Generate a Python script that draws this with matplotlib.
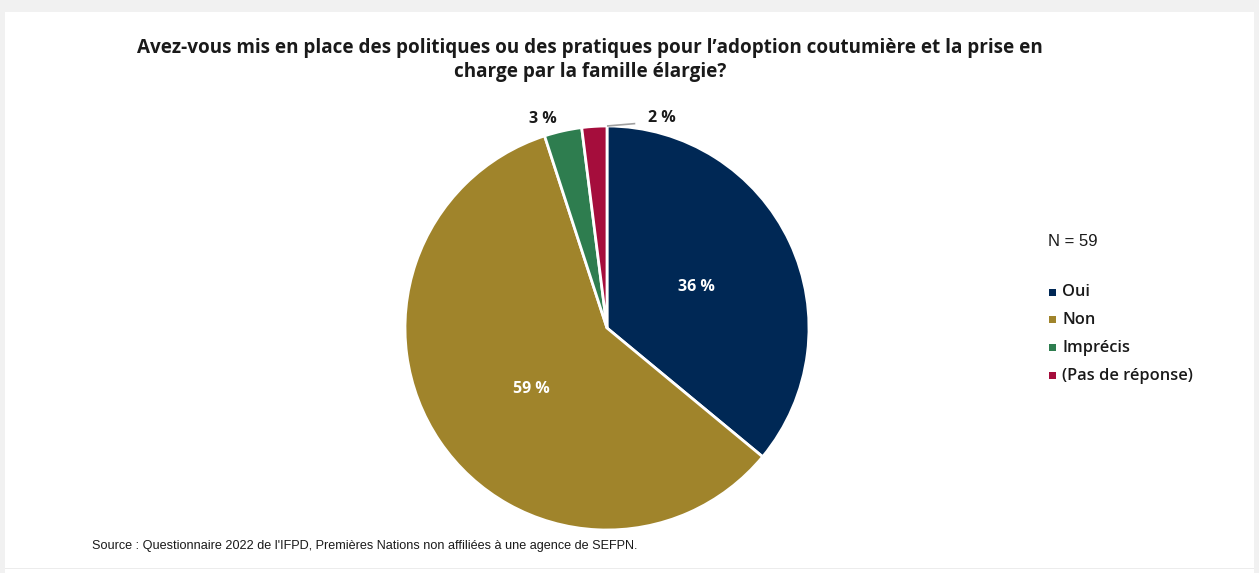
import numpy as np
import matplotlib
matplotlib.use("Agg")
import matplotlib.pyplot as plt
from matplotlib.patches import Rectangle

# Survey answers (share of respondents, %)
categories = ["Oui", "Non", "Imprécis", "(Pas de réponse)"]
shares = [36, 59, 3, 2]
colors = ["#002855", "#A0842B", "#2E7D4F", "#A50D3C"]
n_total = 59

title = ("Avez-vous mis en place des politiques ou des pratiques pour l’adoption coutumière et la prise en\n"
         "charge par la famille élargie?")
source = "Source : Questionnaire 2022 de l'IFPD, Premières Nations non affiliées à une agence de SEFPN."

W, H = 1259, 573
fig = plt.figure(figsize=(W / 100, H / 100), dpi=100)
fig.patch.set_facecolor("#f1f1f1")

# white card with light grey frame
for rect in [((5, 5), 1249, 556), ((5, 0), 1249, 5)]:
    (x0, y0), w, h = rect
    fig.patches.append(Rectangle((x0 / W, y0 / H), w / W, h / H, transform=fig.transFigure,
                                 facecolor="white", edgecolor="none", zorder=-10))
fig.patches.append(Rectangle((5 / W, 4 / H), 1249 / W, 1.2 / H, transform=fig.transFigure,
                             facecolor="#ececec", edgecolor="none", zorder=-9))

# pie axes: centre (607, 328) px, radius 202 px
cx, cy, r = 607, 328, 202
pad = 30
ax = fig.add_axes([(cx - r - pad) / W, (H - cy - r - pad) / H, 2 * (r + pad) / W, 2 * (r + pad) / H])
ax.set_facecolor("none")

wedges, _ = ax.pie(shares, colors=colors, startangle=90, counterclock=False,
                   radius=1.0, wedgeprops=dict(edgecolor="white", linewidth=2))
ax.set_xlim(-(r + pad) / r, (r + pad) / r)
ax.set_ylim(-(r + pad) / r, (r + pad) / r)
ax.set_aspect("equal")
ax.axis("off")

label_font = dict(family="Open Sans", weight="bold", fontsize=11.5)

# value labels
for i, w in enumerate(wedges):
    mid_deg = (w.theta1 + w.theta2) / 2
    txt = f"{shares[i]} %"
    if i == 0:
        m = np.deg2rad(mid_deg)
        ax.text(0.49 * np.cos(m), 0.49 * np.sin(m) - 0.006, txt, ha="center", va="center",
                color="white", **label_font)
    elif i == 1:
        m = np.deg2rad(mid_deg + 4.5)
        ax.text(0.48 * np.cos(m), 0.48 * np.sin(m), txt, ha="center", va="center",
                color="white", **label_font)
    elif i == 2:
        ang = np.deg2rad(107)
        ax.text(1.082 * np.cos(ang), 1.082 * np.sin(ang), txt, ha="center", va="center",
                color="#1a1a1a", **label_font)
    else:
        ang = np.deg2rad(75.3)
        tx, ty = 1.075 * np.cos(ang), 1.075 * np.sin(ang)
        ax.text(tx, ty, txt, ha="center", va="center", color="#1a1a1a", **label_font)
        ax.plot([0.0, 0.14], [1.0, 1.012], color="#a0a0a0", lw=1.2, solid_capstyle="butt")

# title
fig.text(590 / W, 1 - 60 / H, title, ha="center", va="center", fontsize=13.55,
         family="Open Sans", weight="bold", color="#1a1a1a", linespacing=1.25)

# legend block
fig.text(1048 / W, 1 - 242 / H, f"N = {n_total}", ha="left", va="center",
         fontsize=12, family="Liberation Sans", color="#1a1a1a")
for k, (cat, col) in enumerate(zip(categories, colors)):
    y = 292 + k * 27.7
    fig.patches.append(Rectangle(((1052 - 3.5) / W, 1 - (y + 3.5) / H), 7 / W, 7 / H,
                                 transform=fig.transFigure, facecolor=col, edgecolor="none"))
    fig.text(1062 / W, 1 - (y + 0.5) / H, cat, ha="left", va="center", fontsize=11.8,
             family="Open Sans", weight="semibold", color="#1a1a1a")

# source note
fig.text(92 / W, 1 - 546 / H, source, ha="left", va="center", fontsize=9.13,
         family="Liberation Sans", color="#1a1a1a")

fig.savefig("out.png", dpi=100, facecolor=fig.get_facecolor())
